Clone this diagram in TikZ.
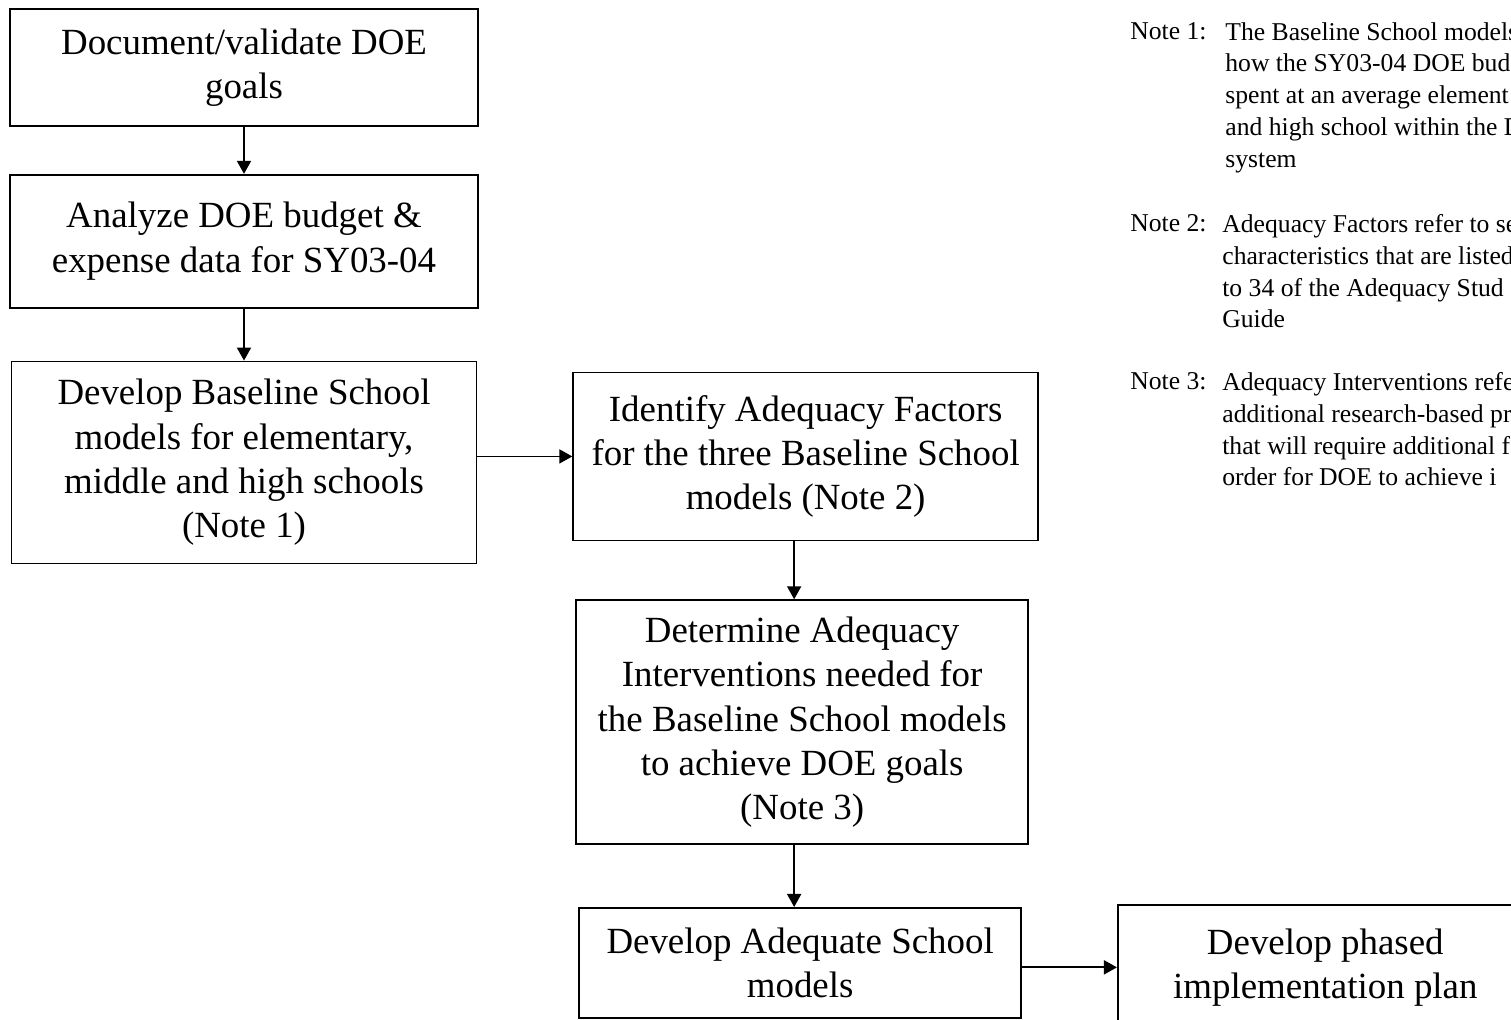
\documentclass[tikz,border=0pt]{standalone}
\usepackage{fontspec}
\setmainfont{Liberation Serif}
\usetikzlibrary{positioning, arrows.meta}

\begin{document}
\begin{tikzpicture}[
    x=0.02cm, y=-0.02cm,
    node distance=1cm,
    box/.style={rectangle, draw, line width=1pt, align=center, inner sep=2pt,
        font=\fontsize{21}{25.2}\selectfont},
    label/.style={anchor=base west, inner sep=0pt,
        font=\fontsize{14.6}{18.1}\selectfont},
    note/.style={anchor=north west, inner sep=0pt, align=left,
        font=\fontsize{14.6}{18.1}\selectfont},
    flow/.style={-{Triangle[length=2.6mm, width=2.8mm]}, line width=1pt}
]
\useasboundingbox (0,0) rectangle (1511,1020);
\clip (0,0) rectangle (1511,1020);

% left column
\node[box, minimum width=9.36cm, minimum height=2.34cm] (goals) at (244,67.5)
    {Document/validate DOE\\goals};
\node[box, minimum width=9.36cm, minimum height=2.66cm, below=0.94cm of goals] (budget)
    {Analyze DOE budget \&\\expense data for SY03-04};
\node[box, minimum width=9.30cm, minimum height=4.04cm, below=1.04cm of budget] (baseline)
    {Develop Baseline School\\models for elementary,\\middle and high schools\\(Note 1)};

% middle column
\node[box, minimum width=9.30cm, minimum height=3.36cm, right=1.9cm of baseline, yshift=0.12cm] (factors)
    {Identify Adequacy Factors\\for the three Baseline School\\models (Note 2)};
\node[box, minimum width=9.04cm, minimum height=4.88cm, below=1.16cm of factors, xshift=-0.07cm] (interv)
    {Determine Adequacy\\Interventions needed for\\the Baseline School models\\to achieve DOE goals\\(Note 3)};
\node[box, minimum width=8.84cm, minimum height=2.20cm, below=1.24cm of interv, xshift=-0.04cm] (adequate)
    {Develop Adequate School\\models};
\node[box, minimum width=8.30cm, minimum height=2.50cm,
    right=1.9cm of adequate.north east, anchor=north west, yshift=0.06cm] (phased)
    {Develop phased\\implementation plan};

\draw[flow] (goals) -- (budget);
\draw[flow] (budget) -- (baseline);
\draw[flow] (baseline.east |- factors.west) -- (factors.west);
\draw[flow] ([xshift=-0.16cm]factors.south -| interv) -- ([xshift=-0.16cm]interv.north);
\draw[flow] ([xshift=-0.12cm]interv.south -| adequate) -- ([xshift=-0.12cm]adequate.north);
\draw[flow] (adequate.east |- phased.west) -- (phased.west);

% notes
\node[label] (lab1) at (1130,40) {Note 1:};
\node[note] (note1) at (1225,22) {The Baseline School models\\how the SY03-04 DOE bud\\spent at an average element\\and high school within the D\\system};
\node[label] (lab2) at (1130,232) {Note 2:};
\node[note] (note2) at (1222,214) {Adequacy Factors refer to se\\characteristics that are listed\\to 34 of the Adequacy Stud\\Guide};
\node[label] (lab3) at (1130,390) {Note 3:};
\node[note] (note3) at (1222,372) {Adequacy Interventions refe\\additional research-based pr\\that will require additional f\\order for DOE to achieve i};
\end{tikzpicture}
\end{document}
